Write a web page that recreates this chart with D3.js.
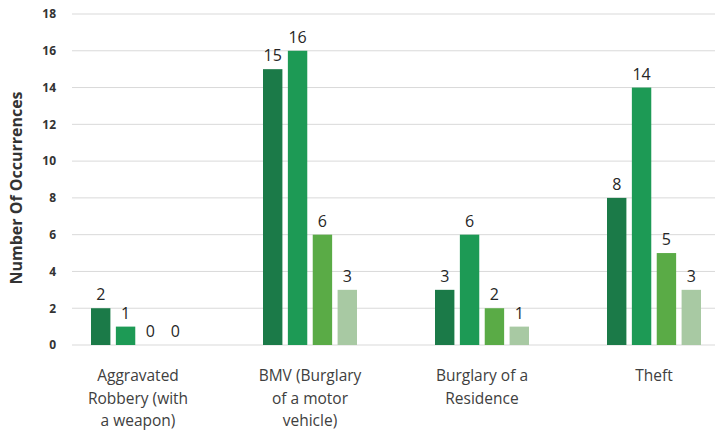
<!DOCTYPE html>
<html>
<head>
<meta charset="utf-8">
<script src="https://cdn.jsdelivr.net/npm/d3@7"></script>
<style>
  html, body { margin: 0; padding: 0; background: #ffffff; }
  svg { display: block; }
</style>
</head>
<body>
<svg id="chart" width="722" height="438"></svg>
<script>
// ---- data ----
const categories = [
  ["Aggravated", "Robbery (with", "a weapon)"],
  ["BMV (Burglary", "of a motor", "vehicle)"],
  ["Burglary of a", "Residence"],
  ["Theft"]
];
const categoryKeys = ["Aggravated Robbery (with a weapon)", "BMV (Burglary of a motor vehicle)", "Burglary of a Residence", "Theft"];
const seriesNames = ["Series 1", "Series 2", "Series 3", "Series 4"];
const series1 = [2, 15, 3, 8];
const series2 = [1, 16, 6, 14];
const series3 = [0, 6, 2, 5];
const series4 = [0, 3, 1, 3];
const yTicks = [0, 2, 4, 6, 8, 10, 12, 14, 16, 18];
const colors = ["#1b7a48", "#1d9a55", "#5aab46", "#a8c9a3"];

const seriesValues = [series1, series2, series3, series4];

const svg = d3.select("#chart");
const font = "'Open Sans', 'Liberation Sans', sans-serif";

const y = d3.scaleLinear().domain([0, 18]).range([345, 14]);
const x0 = d3.scaleBand().domain(categoryKeys).range([52, 740]).padding(0);
const x1 = d3.scaleBand().domain(seriesNames).range([-47, 47]).paddingInner(0.22);

const gridLeft = 72, gridRight = 715;

// gridlines
svg.append("g").selectAll("line").data(yTicks).join("line")
  .attr("x1", gridLeft).attr("x2", gridRight)
  .attr("y1", d => y(d)).attr("y2", d => y(d))
  .attr("stroke", "#d9d9d9").attr("stroke-width", 1);

// y axis tick labels
const yAxis = d3.axisLeft(y).tickValues(yTicks).tickSize(0).tickPadding(0);
const yg = svg.append("g").attr("transform", "translate(56,0)").call(yAxis);
yg.select(".domain").remove();
yg.selectAll("text")
  .attr("font-family", font).attr("font-size", 12).attr("font-weight", "bold")
  .attr("fill", "#333333");

// axis title
svg.append("text")
  .attr("transform", "translate(22,188) rotate(-90)")
  .attr("text-anchor", "middle")
  .attr("font-family", font).attr("font-size", 16).attr("font-weight", "bold")
  .attr("fill", "#333333")
  .text("Number Of Occurrences");

// bars
const groups = svg.append("g").selectAll("g").data(categoryKeys).join("g")
  .attr("transform", d => `translate(${x0(d) + x0.bandwidth() / 2},0)`);

groups.each(function(cat, ci) {
  const g = d3.select(this);
  const vals = seriesNames.map((s, si) => ({ s, si, v: seriesValues[si][ci] }));
  g.selectAll("rect").data(vals.filter(d => d.v > 0)).join("rect")
    .attr("x", d => x1(d.s))
    .attr("width", x1.bandwidth())
    .attr("y", d => y(d.v))
    .attr("height", d => y(0) - y(d.v))
    .attr("fill", d => colors[d.si]);
  g.selectAll("text.val").data(vals).join("text")
    .attr("class", "val")
    .attr("x", d => x1(d.s) + x1.bandwidth() / 2)
    .attr("y", d => y(d.v) - 8)
    .attr("text-anchor", "middle")
    .attr("font-family", font).attr("font-size", 16)
    .attr("fill", "#262626")
    .text(d => d.v);
});

// category labels
const labels = svg.append("g").selectAll("text").data(categories).join("text")
  .attr("x", (d, i) => x0(categoryKeys[i]) + x0.bandwidth() / 2)
  .attr("y", 381)
  .attr("text-anchor", "middle")
  .attr("font-family", font).attr("font-size", 15.5)
  .attr("fill", "#404040");
labels.selectAll("tspan").data(d => d).join("tspan")
  .attr("x", function() { return d3.select(this.parentNode).attr("x"); })
  .attr("dy", (d, i) => i === 0 ? 0 : 22.5)
  .text(d => d);
</script>
</body>
</html>
